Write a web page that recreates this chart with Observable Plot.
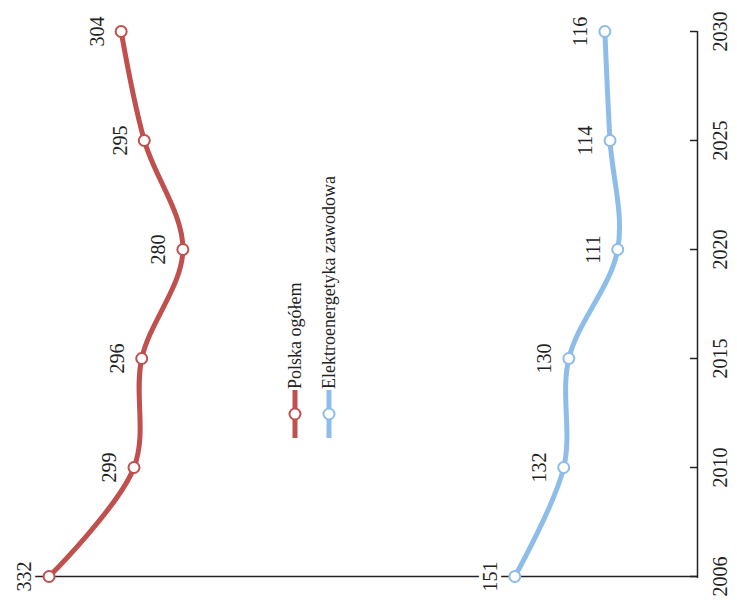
<!DOCTYPE html>
<html>
<head>
<meta charset="utf-8">
<script src="https://cdn.jsdelivr.net/npm/d3@7"></script>
<script src="https://cdn.jsdelivr.net/npm/@observablehq/plot@0.6"></script>
<style>
  html, body { margin: 0; padding: 0; background: white; }
  body { width: 737px; height: 600px; overflow: hidden; position: relative; }
  #rot { position: absolute; left: 0; top: 0; width: 600px; height: 737px;
         transform-origin: 0 0; transform: translate(0, 600px) rotate(-90deg); }
  #rot svg { position: absolute; left: 0; top: 0; }
  #legend { position: absolute; left: 162px; top: 278px; font-family: "Liberation Serif", serif;
            font-size: 18px; color: #222; }
  .row { height: 34px; display: flex; align-items: center; }
  .row span { line-height: 1; margin-left: 1px; }
</style>
</head>
<body>
<div id="rot"><div id="legend"></div></div>
<script>
const years = ["2006", "2010", "2015", "2020", "2025", "2030"];
const polska = [332, 299, 296, 280, 295, 304];
const elektro = [151, 132, 130, 111, 114, 116];
const seriesNames = ["Polska ogółem", "Elektroenergetyka zawodowa"];
const seriesColors = ["#C0504D", "#8DBDE8"];

const data = years.flatMap((y, i) => [
  {year: y, value: polska[i], s: seriesNames[0]},
  {year: y, value: elektro[i], s: seriesNames[1]}
]);

const chart = Plot.plot({
  width: 600,
  height: 737,
  marginLeft: 22,
  marginRight: 31,
  marginTop: 28,
  marginBottom: 40,
  x: {type: "point", domain: years, padding: 0, axis: null},
  y: {domain: [80, 340], axis: null},
  color: {domain: seriesNames, range: seriesColors},
  style: {fontFamily: "Liberation Serif", fontSize: "20px", background: "white", color: "#222"},
  marks: [
    Plot.ruleX([years[0]], {stroke: "#222", strokeWidth: 1.5}),
    Plot.ruleY([80], {stroke: "#222", strokeWidth: 1.5}),
    Plot.ruleX(years, {x: d => d, insetTop: 662, stroke: "#222", strokeWidth: 1.5}),
    Plot.text(years, {x: d => d, frameAnchor: "bottom", dy: 23, lineAnchor: "middle", fill: "#222", fontSize: 20}),
    Plot.text(data, {x: "year", y: "value", text: d => String(d.value), dy: -24, lineAnchor: "middle",
                     fill: "#222", stroke: "white", strokeWidth: 8, fontSize: 20}),
    Plot.line(data, {x: "year", y: "value", z: "s", stroke: "s", strokeWidth: 5, curve: "catmull-rom"}),
    Plot.dot(data, {x: "year", y: "value", stroke: "s", fill: "white", r: 5.5, strokeWidth: 2})
  ]
});
document.getElementById("rot").insertBefore(chart, document.getElementById("legend"));

const legend = document.getElementById("legend");
seriesNames.forEach((name, i) => {
  const row = document.createElement("div");
  row.className = "row";
  const c = seriesColors[i];
  row.innerHTML = `<svg width="48" height="14" style="position:static"><line x1="0" y1="7" x2="48" y2="7" stroke="${c}" stroke-width="5"/><circle cx="24" cy="7" r="5.5" fill="white" stroke="${c}" stroke-width="2"/></svg><span></span>`;
  row.querySelector("span").textContent = name;
  legend.appendChild(row);
});
</script>
</body>
</html>
